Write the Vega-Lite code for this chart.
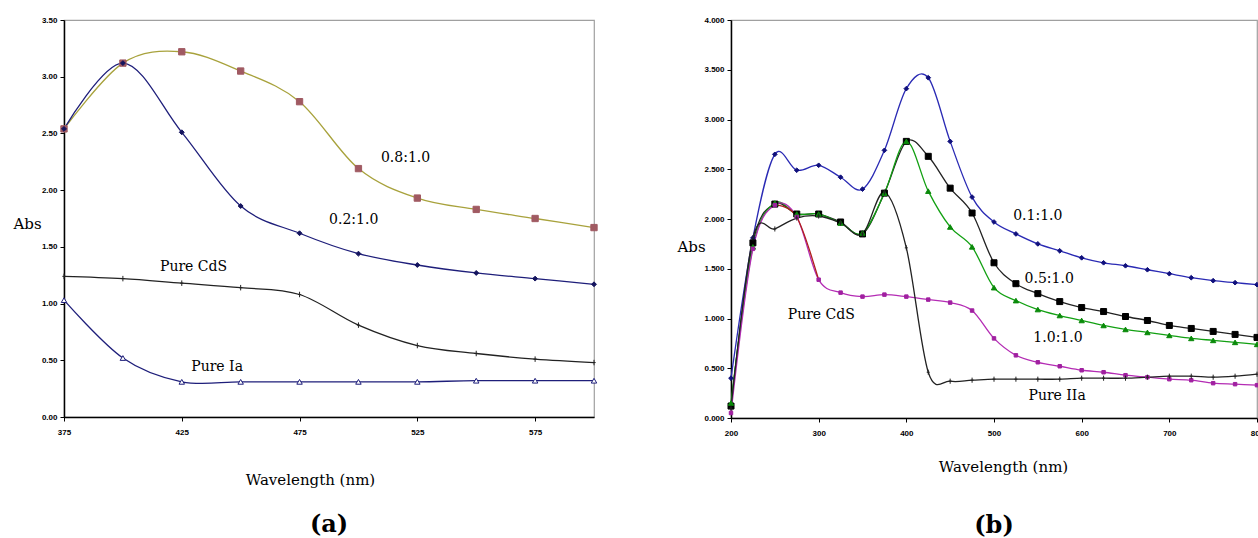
{
  "$schema": "https://vega.github.io/schema/vega-lite/v6.json",
  "background": "white",
  "padding": {"left": 12, "top": 15, "right": 0, "bottom": 0},
  "spacing": 76,
  "resolve": {"scale": {"color": "independent", "fill": "independent", "stroke": "independent", "shape": "independent", "size": "independent"}},
  "config": {
    "view": {"stroke": "#a0a0a0", "strokeWidth": 1.2},
    "axis": {"grid": false, "domainColor": "black", "domainWidth": 1.5, "tickColor": "black", "tickSize": 4, "labelFont": "Liberation Sans", "labelFontSize": 8, "labelFontWeight": "bold", "labelColor": "black", "labelPadding": 7, "labelFlush": false, "titleFont": "DejaVu Serif", "titleFontSize": 15, "titleFontWeight": "normal", "titleColor": "black"},
    "axisY": {"labelPadding": 3},
    "title": {"font": "DejaVu Serif", "fontSize": 24, "fontWeight": "bold", "orient": "bottom", "color": "black", "anchor": "middle"}
  },
  "datasets": {
    "a": [
      {"series": "0.8:1.0", "wl": 375, "abs": 2.54}, {"series": "0.8:1.0", "wl": 400, "abs": 3.12}, {"series": "0.8:1.0", "wl": 425, "abs": 3.22}, {"series": "0.8:1.0", "wl": 450, "abs": 3.05}, {"series": "0.8:1.0", "wl": 475, "abs": 2.78}, {"series": "0.8:1.0", "wl": 500, "abs": 2.19}, {"series": "0.8:1.0", "wl": 525, "abs": 1.93}, {"series": "0.8:1.0", "wl": 550, "abs": 1.83}, {"series": "0.8:1.0", "wl": 575, "abs": 1.75}, {"series": "0.8:1.0", "wl": 600, "abs": 1.67},
      {"series": "0.2:1.0", "wl": 375, "abs": 2.54}, {"series": "0.2:1.0", "wl": 400, "abs": 3.12}, {"series": "0.2:1.0", "wl": 425, "abs": 2.51}, {"series": "0.2:1.0", "wl": 450, "abs": 1.86}, {"series": "0.2:1.0", "wl": 475, "abs": 1.62}, {"series": "0.2:1.0", "wl": 500, "abs": 1.44}, {"series": "0.2:1.0", "wl": 525, "abs": 1.34}, {"series": "0.2:1.0", "wl": 550, "abs": 1.27}, {"series": "0.2:1.0", "wl": 575, "abs": 1.22}, {"series": "0.2:1.0", "wl": 600, "abs": 1.17},
      {"series": "Pure CdS", "wl": 375, "abs": 1.24}, {"series": "Pure CdS", "wl": 400, "abs": 1.22}, {"series": "Pure CdS", "wl": 425, "abs": 1.18}, {"series": "Pure CdS", "wl": 450, "abs": 1.14}, {"series": "Pure CdS", "wl": 475, "abs": 1.08}, {"series": "Pure CdS", "wl": 500, "abs": 0.81}, {"series": "Pure CdS", "wl": 525, "abs": 0.63}, {"series": "Pure CdS", "wl": 550, "abs": 0.56}, {"series": "Pure CdS", "wl": 575, "abs": 0.51}, {"series": "Pure CdS", "wl": 600, "abs": 0.48},
      {"series": "Pure Ia", "wl": 375, "abs": 1.03}, {"series": "Pure Ia", "wl": 400, "abs": 0.52}, {"series": "Pure Ia", "wl": 425, "abs": 0.31}, {"series": "Pure Ia", "wl": 450, "abs": 0.31}, {"series": "Pure Ia", "wl": 475, "abs": 0.31}, {"series": "Pure Ia", "wl": 500, "abs": 0.31}, {"series": "Pure Ia", "wl": 525, "abs": 0.31}, {"series": "Pure Ia", "wl": 550, "abs": 0.32}, {"series": "Pure Ia", "wl": 575, "abs": 0.32}, {"series": "Pure Ia", "wl": 600, "abs": 0.32}
    ],
    "labelsA": [
      {"wl": 520, "abs": 2.28, "text": "0.8:1.0"},
      {"wl": 498, "abs": 1.74, "text": "0.2:1.0"},
      {"wl": 430, "abs": 1.32, "text": "Pure CdS"},
      {"wl": 440, "abs": 0.44, "text": "Pure Ia"}
    ],
    "b": [
      {"series": "0.1:1.0", "wl": 200, "abs": 0.40}, {"series": "0.1:1.0", "wl": 225, "abs": 1.81}, {"series": "0.1:1.0", "wl": 250, "abs": 2.65}, {"series": "0.1:1.0", "wl": 275, "abs": 2.49}, {"series": "0.1:1.0", "wl": 300, "abs": 2.54}, {"series": "0.1:1.0", "wl": 325, "abs": 2.42}, {"series": "0.1:1.0", "wl": 350, "abs": 2.30}, {"series": "0.1:1.0", "wl": 375, "abs": 2.69}, {"series": "0.1:1.0", "wl": 400, "abs": 3.31}, {"series": "0.1:1.0", "wl": 425, "abs": 3.42}, {"series": "0.1:1.0", "wl": 450, "abs": 2.78}, {"series": "0.1:1.0", "wl": 475, "abs": 2.22}, {"series": "0.1:1.0", "wl": 500, "abs": 1.97}, {"series": "0.1:1.0", "wl": 525, "abs": 1.85}, {"series": "0.1:1.0", "wl": 550, "abs": 1.75}, {"series": "0.1:1.0", "wl": 575, "abs": 1.68}, {"series": "0.1:1.0", "wl": 600, "abs": 1.61}, {"series": "0.1:1.0", "wl": 625, "abs": 1.56}, {"series": "0.1:1.0", "wl": 650, "abs": 1.53}, {"series": "0.1:1.0", "wl": 675, "abs": 1.49}, {"series": "0.1:1.0", "wl": 700, "abs": 1.45}, {"series": "0.1:1.0", "wl": 725, "abs": 1.41}, {"series": "0.1:1.0", "wl": 750, "abs": 1.38}, {"series": "0.1:1.0", "wl": 775, "abs": 1.36}, {"series": "0.1:1.0", "wl": 800, "abs": 1.34},
      {"series": "0.5:1.0", "wl": 200, "abs": 0.12}, {"series": "0.5:1.0", "wl": 225, "abs": 1.76}, {"series": "0.5:1.0", "wl": 250, "abs": 2.15}, {"series": "0.5:1.0", "wl": 275, "abs": 2.05}, {"series": "0.5:1.0", "wl": 300, "abs": 2.05}, {"series": "0.5:1.0", "wl": 325, "abs": 1.97}, {"series": "0.5:1.0", "wl": 350, "abs": 1.85}, {"series": "0.5:1.0", "wl": 375, "abs": 2.26}, {"series": "0.5:1.0", "wl": 400, "abs": 2.78}, {"series": "0.5:1.0", "wl": 425, "abs": 2.63}, {"series": "0.5:1.0", "wl": 450, "abs": 2.31}, {"series": "0.5:1.0", "wl": 475, "abs": 2.06}, {"series": "0.5:1.0", "wl": 500, "abs": 1.56}, {"series": "0.5:1.0", "wl": 525, "abs": 1.35}, {"series": "0.5:1.0", "wl": 550, "abs": 1.25}, {"series": "0.5:1.0", "wl": 575, "abs": 1.17}, {"series": "0.5:1.0", "wl": 600, "abs": 1.11}, {"series": "0.5:1.0", "wl": 625, "abs": 1.07}, {"series": "0.5:1.0", "wl": 650, "abs": 1.02}, {"series": "0.5:1.0", "wl": 675, "abs": 0.98}, {"series": "0.5:1.0", "wl": 700, "abs": 0.93}, {"series": "0.5:1.0", "wl": 725, "abs": 0.90}, {"series": "0.5:1.0", "wl": 750, "abs": 0.87}, {"series": "0.5:1.0", "wl": 775, "abs": 0.84}, {"series": "0.5:1.0", "wl": 800, "abs": 0.81},
      {"series": "1.0:1.0", "wl": 200, "abs": 0.15}, {"series": "1.0:1.0", "wl": 225, "abs": 1.72}, {"series": "1.0:1.0", "wl": 250, "abs": 2.16}, {"series": "1.0:1.0", "wl": 275, "abs": 2.05}, {"series": "1.0:1.0", "wl": 300, "abs": 2.05}, {"series": "1.0:1.0", "wl": 325, "abs": 1.96}, {"series": "1.0:1.0", "wl": 350, "abs": 1.86}, {"series": "1.0:1.0", "wl": 375, "abs": 2.26}, {"series": "1.0:1.0", "wl": 400, "abs": 2.78}, {"series": "1.0:1.0", "wl": 425, "abs": 2.28}, {"series": "1.0:1.0", "wl": 450, "abs": 1.92}, {"series": "1.0:1.0", "wl": 475, "abs": 1.72}, {"series": "1.0:1.0", "wl": 500, "abs": 1.31}, {"series": "1.0:1.0", "wl": 525, "abs": 1.18}, {"series": "1.0:1.0", "wl": 550, "abs": 1.09}, {"series": "1.0:1.0", "wl": 575, "abs": 1.03}, {"series": "1.0:1.0", "wl": 600, "abs": 0.98}, {"series": "1.0:1.0", "wl": 625, "abs": 0.93}, {"series": "1.0:1.0", "wl": 650, "abs": 0.89}, {"series": "1.0:1.0", "wl": 675, "abs": 0.86}, {"series": "1.0:1.0", "wl": 700, "abs": 0.83}, {"series": "1.0:1.0", "wl": 725, "abs": 0.80}, {"series": "1.0:1.0", "wl": 750, "abs": 0.78}, {"series": "1.0:1.0", "wl": 775, "abs": 0.76}, {"series": "1.0:1.0", "wl": 800, "abs": 0.74},
      {"series": "Pure CdS", "wl": 200, "abs": 0.05}, {"series": "Pure CdS", "wl": 225, "abs": 1.70}, {"series": "Pure CdS", "wl": 250, "abs": 2.14}, {"series": "Pure CdS", "wl": 275, "abs": 2.02}, {"series": "Pure CdS", "wl": 300, "abs": 1.39}, {"series": "Pure CdS", "wl": 325, "abs": 1.26}, {"series": "Pure CdS", "wl": 350, "abs": 1.22}, {"series": "Pure CdS", "wl": 375, "abs": 1.24}, {"series": "Pure CdS", "wl": 400, "abs": 1.22}, {"series": "Pure CdS", "wl": 425, "abs": 1.19}, {"series": "Pure CdS", "wl": 450, "abs": 1.16}, {"series": "Pure CdS", "wl": 475, "abs": 1.08}, {"series": "Pure CdS", "wl": 500, "abs": 0.80}, {"series": "Pure CdS", "wl": 525, "abs": 0.63}, {"series": "Pure CdS", "wl": 550, "abs": 0.56}, {"series": "Pure CdS", "wl": 575, "abs": 0.52}, {"series": "Pure CdS", "wl": 600, "abs": 0.48}, {"series": "Pure CdS", "wl": 625, "abs": 0.46}, {"series": "Pure CdS", "wl": 650, "abs": 0.43}, {"series": "Pure CdS", "wl": 675, "abs": 0.41}, {"series": "Pure CdS", "wl": 700, "abs": 0.39}, {"series": "Pure CdS", "wl": 725, "abs": 0.38}, {"series": "Pure CdS", "wl": 750, "abs": 0.35}, {"series": "Pure CdS", "wl": 775, "abs": 0.34}, {"series": "Pure CdS", "wl": 800, "abs": 0.33},
      {"series": "Pure IIa", "wl": 200, "abs": 0.10}, {"series": "Pure IIa", "wl": 225, "abs": 1.81}, {"series": "Pure IIa", "wl": 250, "abs": 1.90}, {"series": "Pure IIa", "wl": 275, "abs": 2.01}, {"series": "Pure IIa", "wl": 300, "abs": 2.03}, {"series": "Pure IIa", "wl": 325, "abs": 1.96}, {"series": "Pure IIa", "wl": 350, "abs": 1.85}, {"series": "Pure IIa", "wl": 375, "abs": 2.27}, {"series": "Pure IIa", "wl": 400, "abs": 1.71}, {"series": "Pure IIa", "wl": 425, "abs": 0.46}, {"series": "Pure IIa", "wl": 450, "abs": 0.37}, {"series": "Pure IIa", "wl": 475, "abs": 0.38}, {"series": "Pure IIa", "wl": 500, "abs": 0.39}, {"series": "Pure IIa", "wl": 525, "abs": 0.39}, {"series": "Pure IIa", "wl": 550, "abs": 0.39}, {"series": "Pure IIa", "wl": 575, "abs": 0.39}, {"series": "Pure IIa", "wl": 600, "abs": 0.40}, {"series": "Pure IIa", "wl": 625, "abs": 0.40}, {"series": "Pure IIa", "wl": 650, "abs": 0.40}, {"series": "Pure IIa", "wl": 675, "abs": 0.41}, {"series": "Pure IIa", "wl": 700, "abs": 0.42}, {"series": "Pure IIa", "wl": 725, "abs": 0.42}, {"series": "Pure IIa", "wl": 750, "abs": 0.41}, {"series": "Pure IIa", "wl": 775, "abs": 0.42}, {"series": "Pure IIa", "wl": 800, "abs": 0.44}
    ],
    "labelsB": [
      {"wl": 550, "abs": 2.03, "text": "0.1:1.0"},
      {"wl": 563, "abs": 1.40, "text": "0.5:1.0"},
      {"wl": 573, "abs": 0.80, "text": "1.0:1.0"},
      {"wl": 572, "abs": 0.22, "text": "Pure IIa"},
      {"wl": 303, "abs": 1.035, "text": "Pure CdS"}
    ]
  },
  "hconcat": [
    {
      "width": 530,
      "height": 397,
      "title": {"text": "(a)", "offset": 26},
      "encoding": {
        "x": {"field": "wl", "type": "quantitative", "scale": {"domain": [375, 600], "nice": false, "zero": false},
              "axis": {"values": [375, 425, 475, 525, 575], "title": "Wavelength (nm)", "titleX": 246, "titleY": 62, "titleBaseline": "middle", "titleAlign": "center"}},
        "y": {"field": "abs", "type": "quantitative", "scale": {"domain": [0, 3.5], "nice": false},
              "axis": {"values": [0, 0.5, 1, 1.5, 2, 2.5, 3, 3.5], "format": ".2f", "title": "Abs", "titleAngle": 0, "titleX": -51, "titleY": 203, "titleAlign": "left", "titleBaseline": "middle"}}
      },
      "layer": [
        {
          "data": {"name": "a"},
          "mark": {"type": "line", "interpolate": "cardinal", "strokeWidth": 1.3},
          "encoding": {
            "color": {"field": "series", "type": "nominal", "legend": null,
                      "scale": {"domain": ["0.8:1.0", "0.2:1.0", "Pure CdS", "Pure Ia"], "range": ["#a8a23c", "#1e1e7a", "#222222", "#1e1e7a"]}}
          }
        },
        {
          "data": {"name": "a"},
          "mark": {"type": "point", "filled": true, "strokeWidth": 1, "opacity": 1},
          "encoding": {
            "shape": {"field": "series", "type": "nominal", "legend": null,
                      "scale": {"domain": ["0.8:1.0", "0.2:1.0", "Pure CdS", "Pure Ia"], "range": ["square", "diamond", "M0,-1V1M-0.6,0H0.6", "triangle-up"]}},
            "size": {"field": "series", "type": "nominal", "legend": null,
                     "scale": {"type": "ordinal", "domain": ["0.8:1.0", "0.2:1.0", "Pure CdS", "Pure Ia"], "range": [40, 24, 30, 30]}},
            "fill": {"field": "series", "type": "nominal", "legend": null,
                     "scale": {"domain": ["0.8:1.0", "0.2:1.0", "Pure CdS", "Pure Ia"], "range": ["#a05a62", "#14145e", "#222222", "#ffffff"]}},
            "stroke": {"field": "series", "type": "nominal", "legend": null,
                       "scale": {"domain": ["0.8:1.0", "0.2:1.0", "Pure CdS", "Pure Ia"], "range": ["#a05a62", "#14145e", "#222222", "#1e1e7a"]}}
          }
        },
        {
          "data": {"name": "labelsA"},
          "mark": {"type": "text", "font": "DejaVu Serif", "fontSize": 14, "color": "black", "align": "center", "baseline": "middle"},
          "encoding": {"text": {"field": "text", "type": "nominal"}}
        }
      ]
    },
    {
      "width": 526,
      "height": 398,
      "title": {"text": "(b)", "offset": 40},
      "encoding": {
        "x": {"field": "wl", "type": "quantitative", "scale": {"domain": [200, 800], "nice": false, "zero": false},
              "axis": {"values": [200, 300, 400, 500, 600, 700, 800], "title": "Wavelength (nm)", "titleX": 272, "titleY": 48, "titleBaseline": "middle", "titleAlign": "center"}},
        "y": {"field": "abs", "type": "quantitative", "scale": {"domain": [0, 4], "nice": false},
              "axis": {"values": [0, 0.5, 1, 1.5, 2, 2.5, 3, 3.5, 4], "format": ".3f", "title": "Abs", "titleAngle": 0, "titleX": -54, "titleY": 226, "titleAlign": "left", "titleBaseline": "middle"}}
      },
      "layer": [
        {
          "data": {"name": "b"},
          "mark": {"type": "line", "interpolate": "cardinal", "strokeWidth": 1.3},
          "encoding": {
            "color": {"field": "series", "type": "nominal", "legend": null,
                      "scale": {"domain": ["0.1:1.0", "0.5:1.0", "1.0:1.0", "Pure CdS", "Pure IIa"], "range": ["#2a2ab4", "#222222", "#12a012", "#b42cb4", "#222222"]}}
          }
        },
        {
          "data": {"name": "b"},
          "transform": [{"filter": "datum.series == 'Pure CdS' && datum.wl >= 250 && datum.wl <= 300"}],
          "mark": {"type": "line", "interpolate": "cardinal", "strokeWidth": 1.3, "color": "#b0201c"},
          "encoding": {}
        },
        {
          "data": {"name": "b"},
          "mark": {"type": "point", "filled": true, "strokeWidth": 1, "opacity": 1},
          "encoding": {
            "shape": {"field": "series", "type": "nominal", "legend": null,
                      "scale": {"domain": ["0.1:1.0", "0.5:1.0", "1.0:1.0", "Pure CdS", "Pure IIa"], "range": ["diamond", "square", "triangle-up", "square", "M0,-1V1M-0.6,0H0.6"]}},
            "size": {"field": "series", "type": "nominal", "legend": null,
                     "scale": {"type": "ordinal", "domain": ["0.1:1.0", "0.5:1.0", "1.0:1.0", "Pure CdS", "Pure IIa"], "range": [22, 36, 28, 12, 26]}},
            "fill": {"field": "series", "type": "nominal", "legend": null,
                     "scale": {"domain": ["0.1:1.0", "0.5:1.0", "1.0:1.0", "Pure CdS", "Pure IIa"], "range": ["#10107c", "#000000", "#0a8a0a", "#a020a0", "#222222"]}},
            "stroke": {"field": "series", "type": "nominal", "legend": null,
                       "scale": {"domain": ["0.1:1.0", "0.5:1.0", "1.0:1.0", "Pure CdS", "Pure IIa"], "range": ["#10107c", "#000000", "#0a8a0a", "#a020a0", "#222222"]}}
          }
        },
        {
          "data": {"name": "labelsB"},
          "mark": {"type": "text", "font": "DejaVu Serif", "fontSize": 14, "color": "black", "align": "center", "baseline": "middle"},
          "encoding": {"text": {"field": "text", "type": "nominal"}}
        }
      ]
    }
  ]
}
